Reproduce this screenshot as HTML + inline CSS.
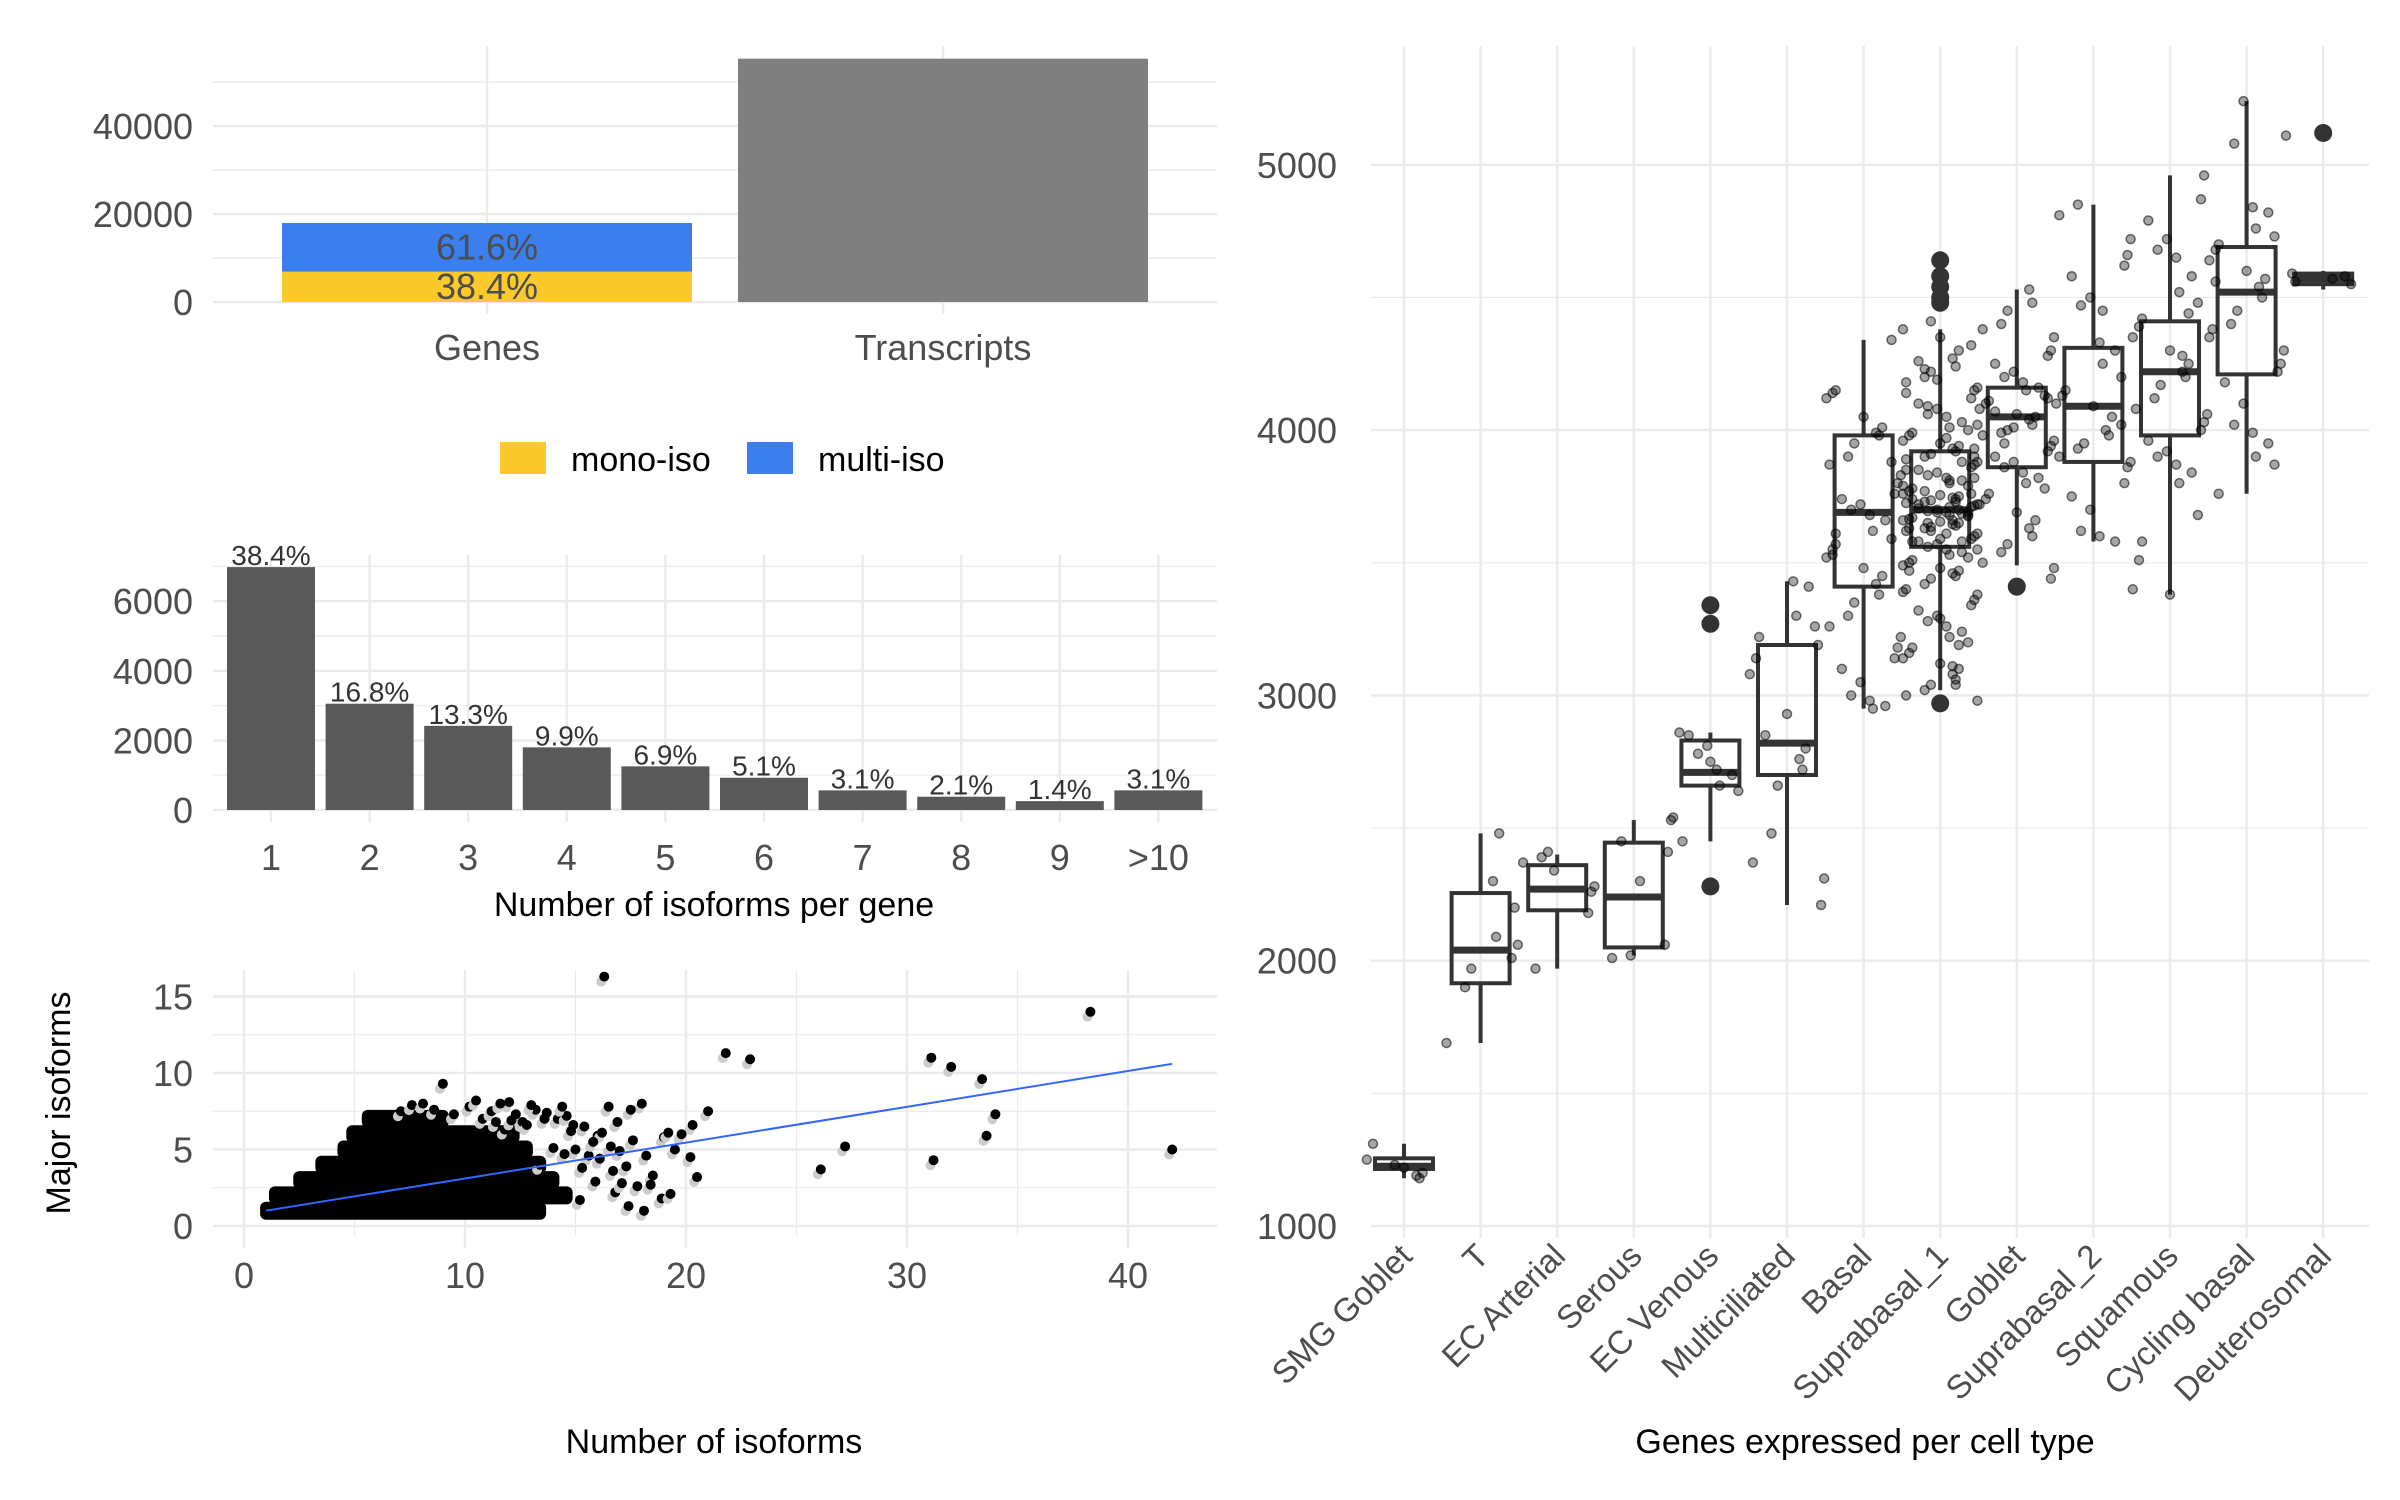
<!DOCTYPE html>
<html><head><meta charset="utf-8">
<style>
html,body{margin:0;padding:0;background:#fff;}
svg{display:block;font-family:"Liberation Sans",sans-serif;}
.tk{fill:#4d4d4d;font-size:36px;}
.tr{fill:#4d4d4d;font-size:33px;}
.tt{fill:#000;font-size:34px;}
</style></head>
<body>
<svg id="chart" width="2400" height="1500" viewBox="0 0 2400 1500" xmlns="http://www.w3.org/2000/svg"></svg>
<script>
// ---------- Data ----------
// Panel A
const countCategories = ["Genes","Transcripts"];
const monoIso = [6900, 0];
const multiIso = [11050, 0];
const transcriptTotal = [0, 55300];
const countTicks = [0,20000,40000];
const legendLabels = ["mono-iso","multi-iso"];
// Panel B
const isoCategories = ["1","2","3","4","5","6","7","8","9",">10"];
const isoGeneCounts = [6980,3054,2418,1800,1254,927,564,382,255,564];
const isoPctLabels = ["38.4%","16.8%","13.3%","9.9%","6.9%","5.1%","3.1%","2.1%","1.4%","3.1%"];
const isoTicks = [0,2000,4000,6000];
// Panel C: dense rows (major isoform level, x extent of the cloud)
const cloudLevels = [1,2,3,4,5,6,7];
const cloudXMin = [1,1.4,2.5,3.5,4.5,4.9,5.6];
const cloudXMax = [13.4,14.6,14.0,13.4,12.8,12.2,9.0];
const scatterX = [16.3,38.3,21.8,22.9,31.1,32.0,33.4,42.0,34.0,33.6,31.2,27.2,26.1,20.2,19.5,19.0,18.0,17.5,16.5,9.0,12.0,19.2,20.3,20.5,17.8,18.9,14.2,14.9,15.6,13.4,16.0,17.0,18.5,16.8,15.2,21.0,19.8,14.6,13.2,12.6,11.8,15.9,17.3,
 9.5,10.2,10.8,11.2,11.6,12.3,13.0,13.7,14.4,7.1,7.6,8.1,8.6,10.5,11.4,12.1,12.8,13.6,14.8,15.4,16.2,16.9,15.0,15.8,16.6,17.6,18.2,14.0,14.5,15.3,16.1,16.7,17.1,18.4,19.3,17.4,18.1];
const scatterY = [16.3,14.0,11.3,10.9,11.0,10.4,9.6,5.0,7.3,5.9,4.3,5.2,3.7,4.5,5.0,5.8,8.0,7.6,7.8,9.3,8.1,6.1,6.6,3.2,2.6,1.8,7.0,6.6,4.6,4.0,5.9,4.9,3.3,2.2,1.7,7.5,6.0,7.2,7.6,6.8,6.3,2.9,3.9,
 7.3,7.8,7.0,7.5,8.0,7.3,7.9,7.4,7.8,7.5,7.9,8.0,7.6,8.2,6.8,6.9,6.6,7.0,6.2,6.5,6.1,6.8,5.0,5.5,5.2,5.6,4.6,5.1,4.7,3.8,4.4,3.6,2.8,2.7,2.1,1.3,1.0];
const fitLine = {x0:1, y0:1.0, x1:42, y1:10.6};
const scatterXTicks = [0,10,20,30,40];
const scatterYTicks = [0,5,10,15];
// Panel D
const cellTypes = ["SMG Goblet","T","EC Arterial","Serous","EC Venous","Multiciliated","Basal","Suprabasal_1","Goblet","Suprabasal_2","Squamous","Cycling basal","Deuterosomal"];
const boxQ1 =  [1215,1915,2190,2050,2660,2700,3410,3560,3860,3880,3980,4210,4550];
const boxMed = [1225,2040,2270,2240,2710,2820,3690,3700,4050,4090,4220,4520,4570];
const boxQ3 =  [1255,2255,2360,2445,2830,3190,3980,3920,4160,4310,4410,4690,4590];
const boxLo =  [1180,1690,1970,2020,2450,2210,2950,3020,3490,3580,3380,3760,4530];
const boxHi =  [1310,2480,2400,2530,2860,3430,4340,4380,4530,4850,4960,5240,4600];
const outlierCat = [4,4,4,7,7,7,7,7,7,8,12];
const outlierVal = [3340,3270,2280,4640,4580,4540,4500,4480,2970,3410,5120];
const cellValues = [
 [1310,1250,1220,1200,1190,1180,1230],
 [2480,2300,2090,1970,1900,1690,2060,2200,2010],
 [2410,2390,2370,2280,2260,2180,1970,2340],
 [2530,2410,2060,2010,2020,2450,2300],
 [2850,2810,2780,2720,2700,2660,2640,2450,2860,2540,2750],
 [3430,3410,3300,3260,3220,3140,3080,2930,2800,2760,2720,2660,2480,2370,2310,2210,3190,2850],
 [4340,4150,4140,4120,4050,4010,3990,3980,3950,3900,3870,3830,3800,3760,3740,3720,3700,3680,3660,3620,3590,3570,3550,3520,3480,3450,3420,3380,3350,3300,3260,3220,3180,3140,3100,3050,3000,2980,2960,2950,3880,3610,3530],
 [4380,4350,4300,4270,4240,4220,4200,4180,4160,4150,4120,4100,4080,4060,4050,4030,4010,4000,3990,3980,3960,3950,3940,3930,3920,3910,3900,3890,3880,3870,3860,3850,3840,3830,3820,3810,3800,3790,3780,3770,3760,3755,3750,3745,3740,3735,3730,3725,3720,3715,3710,3705,3700,3695,3690,3685,3680,3675,3670,3665,3660,3655,3650,3645,3640,3635,3630,3620,3610,3600,3590,3580,3570,3560,3550,3540,3530,3520,3510,3500,3490,3480,3470,3460,3450,3440,3420,3400,3380,3360,3340,3320,3300,3280,3260,3240,3220,3200,3180,3160,3140,3120,3100,3080,3060,3040,3020,3000,2980,3820,3760,3720,3690,3650,3610,3580,3710,3680,3740,3630,3790,3590,3700,3660,3730,3620,3770,3850,3550,3900,4320,4260,4190,4090,3970,3880,3810,3690,3580,3470,3390,3290,3190,3110,3040,4410,4230,4140,4020,3930],
 [4530,4480,4450,4400,4380,4350,4300,4280,4250,4220,4200,4180,4160,4150,4130,4110,4100,4080,4060,4050,4040,4020,4000,3990,3980,3960,3940,3920,3900,3880,3860,3840,3820,3800,3780,3760,3740,3720,3690,3660,3630,3600,3570,3540,3500,3480,3440,4120,4070,4010,3950],
 [4850,4810,4720,4660,4620,4580,4500,4470,4330,4300,4250,4200,4150,4130,4100,4090,4050,4000,3980,3950,3930,3900,3880,3860,3800,3750,3700,3620,3600,3580,4450,4020],
 [4960,4870,4790,4720,4680,4650,4580,4520,4480,4420,4390,4350,4300,4250,4220,4200,4170,4120,4080,4060,4030,4000,3960,3920,3900,3870,3840,3800,3680,3580,3510,3400,3380,4440,4280],
 [5240,5080,4840,4820,4760,4730,4700,4680,4640,4600,4570,4540,4500,4450,4400,4380,4300,4250,4220,4180,4100,4020,3990,3950,3900,3870,3760,4560,4350],
 [4580,4570,4550,4560,4590,5110]
];
const boxTicks = [1000,2000,3000,4000,5000];

// ---------- Helpers ----------
const NS="http://www.w3.org/2000/svg";
const svg=document.getElementById('chart');
function mk(tag,attrs,parent){const e=document.createElementNS(NS,tag);for(const k in attrs)e.setAttribute(k,attrs[k]);(parent||svg).appendChild(e);return e;}
function grp(name){const g=mk('g',{});return g;}
function txt(s,x,y,cls,anchor,parent,extra){const t=mk('text',Object.assign({x:x,y:y,class:cls,'text-anchor':anchor||'middle'},extra||{}),parent);t.textContent=s;return t;}
const GRID='#ebebeb';

// ---------- Panel A ----------
(function(){
 const g=grp('panel-a-counts');
 const L=213,R=1217,T=46,B=302;
 const y=v=>B-v*(88/20000);
 const x=i=>487+i*456;
 [10000,30000,50000].forEach(v=>{mk('line',{x1:L,x2:R,y1:y(v),y2:y(v),stroke:GRID,'stroke-width':1.2},g);});
 countTicks.forEach(v=>{mk('line',{x1:L,x2:R,y1:y(v),y2:y(v),stroke:GRID,'stroke-width':2.4},g);
   const t=txt(String(v),193,y(v)+13,'tk','end',g);});
 countCategories.forEach((c,i)=>{mk('line',{x1:x(i),x2:x(i),y1:T,y2:B+12,stroke:GRID,'stroke-width':2.4},g);
   const t=txt(c,x(i),360,'tk','middle',g);});
 const bw=410;
 countCategories.forEach((c,i)=>{
  if(monoIso[i]>0){
   const r1=mk('rect',{x:x(i)-bw/2,y:y(monoIso[i]),width:bw,height:B-y(monoIso[i]),fill:'#fcc92a'},g);
   
   const top=monoIso[i]+multiIso[i];
   const r2=mk('rect',{x:x(i)-bw/2,y:y(top),width:bw,height:y(monoIso[i])-y(top),fill:'#3a7fed'},g);
   
   const p1=txt((monoIso[i]/top*100).toFixed(1)+'%',x(i),y(monoIso[i]/2)+12,'tk','middle',g);
   const p2=txt((multiIso[i]/top*100).toFixed(1)+'%',x(i),y(monoIso[i]+multiIso[i]/2)+12,'tk','middle',g);
  }
  if(transcriptTotal[i]>0){
   const r=mk('rect',{x:x(i)-205,y:y(transcriptTotal[i]),width:410,height:B-y(transcriptTotal[i]),fill:'#7f7f7f'},g);
   
  }
 });
 const lg=grp('legend');
 const cols=['#fcc92a','#3a7fed'];const bx=[500,747];
 legendLabels.forEach((l,i)=>{
  const r=mk('rect',{x:bx[i],y:442,width:46,height:32,fill:cols[i]},lg);
  const t=txt(l,bx[i]+71,471,'tt','start',lg);
 });
})();

// ---------- Panel B ----------
(function(){
 const g=grp('panel-b-isoform-histogram');
 const L=213,R=1217,T=555,B=810;
 const y=v=>B-v*(69.6/2000);
 const x=i=>271+i*98.6;
 [1000,3000,5000,7000].forEach(v=>{mk('line',{x1:L,x2:R,y1:y(v),y2:y(v),stroke:GRID,'stroke-width':1.2},g);});
 isoTicks.forEach(v=>{mk('line',{x1:L,x2:R,y1:y(v),y2:y(v),stroke:GRID,'stroke-width':2.4},g);
  const t=txt(String(v),193,y(v)+13,'tk','end',g);});
 isoCategories.forEach((c,i)=>{mk('line',{x1:x(i),x2:x(i),y1:T,y2:B+12,stroke:GRID,'stroke-width':2.4},g);
  const t=txt(c,x(i),870,'tk','middle',g);});
 isoGeneCounts.forEach((v,i)=>{
  const r=mk('rect',{x:x(i)-44,y:y(v),width:88,height:B-y(v),fill:'#595959'},g);
  
  const t=txt(isoPctLabels[i],x(i),y(v)-2,'tk','middle',g,{'style':'font-size:28px;fill:#333'});
  
 });
 const tt=txt('Number of isoforms per gene',714,916,'tt','middle',g);
})();

// ---------- Panel C ----------
(function(){
 const g=grp('panel-c-scatter');
 const L=213,R=1217,T=970,B=1236;
 const x=v=>244+v*22.1;
 const y=v=>1226-v*15.3;
 [2.5,7.5,12.5].forEach(v=>mk('line',{x1:L,x2:R,y1:y(v),y2:y(v),stroke:GRID,'stroke-width':1.2},g));
 [5,15,25,35].forEach(v=>mk('line',{x1:x(v),x2:x(v),y1:T,y2:B,stroke:GRID,'stroke-width':1.2},g));
 scatterYTicks.forEach(v=>{mk('line',{x1:L,x2:R,y1:y(v),y2:y(v),stroke:GRID,'stroke-width':2.4},g);
  const t=txt(String(v),193,y(v)+13,'tk','end',g);});
 scatterXTicks.forEach(v=>{mk('line',{x1:x(v),x2:x(v),y1:T,y2:B+12,stroke:GRID,'stroke-width':2.4},g);
  const t=txt(String(v),x(v),1288,'tk','middle',g);});
 const pts=grp('scatter-points');g.appendChild(pts);
 cloudLevels.forEach((lv,i)=>{
  const r=mk('rect',{x:x(cloudXMin[i])-6,y:y(lv)-9,width:x(cloudXMax[i])-x(cloudXMin[i])+12,height:18,rx:6,fill:'#000'},pts);
  
 });
 scatterX.forEach((xv,i)=>{
  mk('circle',{cx:x(xv)-3,cy:y(scatterY[i])+5,r:5,fill:'#ccc'},pts);
  const c=mk('circle',{cx:x(xv),cy:y(scatterY[i]),r:5,fill:'#000'},pts);
  
 });
 const ln=mk('line',{x1:x(fitLine.x0),y1:y(fitLine.y0),x2:x(fitLine.x1),y2:y(fitLine.y1),stroke:'#3366ff','stroke-width':2},g);
 
 const tx=txt('Number of isoforms',714,1453,'tt','middle',g);
 const ty=txt('Major isoforms',70,1103,'tt','middle',g,{transform:'rotate(-90 70 1103)'});
})();

// ---------- Panel D ----------
(function(){
 const g=grp('panel-d-boxplot');
 const L=1371,R=2369,T=46,B=1226;
 const y=v=>1226-(v-1000)*0.2653;
 const x=i=>1404+i*76.6;
 [1500,2500,3500,4500].forEach(v=>mk('line',{x1:L,x2:R,y1:y(v),y2:y(v),stroke:GRID,'stroke-width':1.2},g));
 boxTicks.forEach(v=>{mk('line',{x1:L,x2:R,y1:y(v),y2:y(v),stroke:GRID,'stroke-width':2.4},g);
  const t=txt(String(v),1337,y(v)+13,'tk','end',g);});
 cellTypes.forEach((c,i)=>{mk('line',{x1:x(i),x2:x(i),y1:T,y2:B+12,stroke:GRID,'stroke-width':2.4},g);
  const t=txt(c,0,0,'tr','end',g,{transform:'translate('+(x(i)+10)+',1258) rotate(-45)'});});
 const jit=[-0.5,0.3,-0.15,0.6,-0.35,0.1,0.45,-0.6,0.2,-0.25,0.55,-0.05,0.35,-0.45,0.0,0.25,-0.55,0.5,-0.2,0.15];
 const bw=58;
 cellTypes.forEach((c,i)=>{
  const bg=grp('box-'+c.toLowerCase().replace(/[^a-z0-9]+/g,'-'));g.appendChild(bg);
  mk('line',{x1:x(i),x2:x(i),y1:y(boxHi[i]),y2:y(boxQ3[i]),stroke:'#333','stroke-width':4},bg);
  mk('line',{x1:x(i),x2:x(i),y1:y(boxQ1[i]),y2:y(boxLo[i]),stroke:'#333','stroke-width':4},bg);
  mk('rect',{x:x(i)-bw/2,y:y(boxQ3[i]),width:bw,height:y(boxQ1[i])-y(boxQ3[i]),fill:'none',stroke:'#333','stroke-width':4},bg);
  mk('line',{x1:x(i)-bw/2,x2:x(i)+bw/2,y1:y(boxMed[i]),y2:y(boxMed[i]),stroke:'#333','stroke-width':7},bg);
 });
 outlierCat.forEach((ci,k)=>{
  const c=mk('circle',{cx:x(ci),cy:y(outlierVal[k]),r:9,fill:'#333'},g);
  
 });
 const pg=grp('jitter-points');g.appendChild(pg);
 cellValues.forEach((vals,i)=>{
  vals.forEach((v,k)=>{
   const c=mk('circle',{cx:x(i)+jit[(k*7+i)%jit.length]*62,cy:y(v),r:4.5,fill:'rgba(0,0,0,0.35)',stroke:'rgba(0,0,0,0.55)','stroke-width':1.5},pg);
   
  });
 });
 const tx=txt('Genes expressed per cell type',1865,1453,'tt','middle',g);
})();
</script>
</body></html>
